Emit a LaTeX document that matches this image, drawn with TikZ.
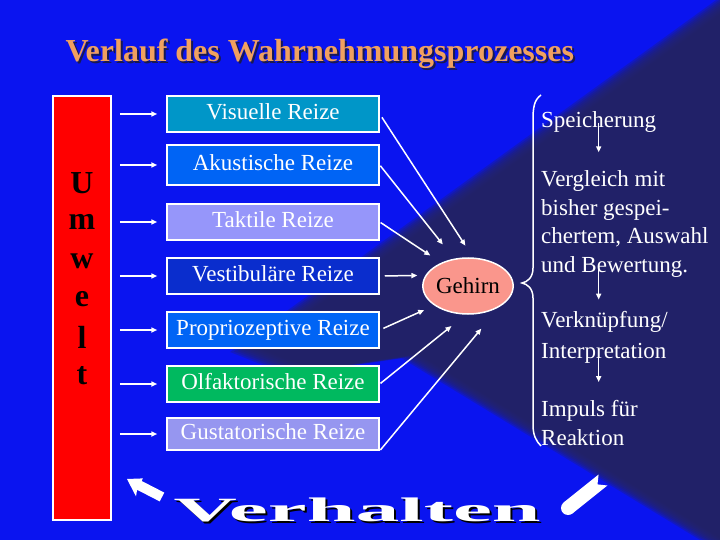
\documentclass[tikz,border=0pt]{standalone}
\usepackage{fontspec}
\setmainfont{Liberation Serif}
\usetikzlibrary{arrows.meta}
\usetikzlibrary{shapes.geometric}

\definecolor{bgblue}{RGB}{10,20,240}
\definecolor{bgdark}{RGB}{36,36,100}
\definecolor{titel}{RGB}{240,160,96}
\definecolor{schatten}{RGB}{25,25,80}
\definecolor{cvis}{RGB}{0,150,200}
\definecolor{caku}{RGB}{0,100,245}
\definecolor{ctak}{RGB}{150,150,250}
\definecolor{cvest}{RGB}{10,45,205}
\definecolor{colf}{RGB}{0,185,95}
\definecolor{cgus}{RGB}{150,150,240}
\definecolor{cgehirn}{RGB}{250,150,140}

\begin{document}
\begin{tikzpicture}[x=1pt, y=-1pt,
  reiz/.style={draw=white, line width=1.5pt, minimum width=212pt, minimum height=36pt,
    inner sep=0pt, text=white, text height=16pt, text depth=5pt,
    font=\fontsize{23}{27}\selectfont},
  pfeil/.style={white, line width=1.5pt, -{Triangle[length=6pt,width=5pt]}},
  rechts/.style={text=white, anchor=base west, align=left, inner sep=0pt,
    font=\fontsize{23}{28.5}\selectfont}]
\useasboundingbox (0,0) rectangle (720,540);
\fill[bgblue] (0,0) rectangle (720,540);
\foreach \s in {1.04,1.03,...,0.955}
  \fill[bgdark, opacity=.3, scale around={\s:(620,300)}]
    (745,-12) -- (245,350) -- (300,372) -- (410,356) -- (745,560) -- cycle;

% Titel
\node (T0) at (64,64) [anchor=base west, text=schatten, font=\fontsize{32}{32}\selectfont\bfseries]
  {Verlauf des Wahrnehmungsprozesses};
\node (T) at (62,62) [anchor=base west, text=titel, font=\fontsize{32}{32}\selectfont\bfseries]
  {Verlauf des Wahrnehmungsprozesses};

% Umwelt
\node (U) at (82,308) [draw=white, line width=1.5pt, fill=red, minimum width=58pt, minimum height=424pt] {};
\foreach \b/\y [count=\i] in {U/183, m/222, w/261, e/299, l/337, t/376}
  \node (L\i) at (82,\y) [font=\fontsize{32}{32}\selectfont\bfseries] {\b};

% Reize
\node (R1) at (273,114) [reiz, fill=cvis] {Visuelle Reize};
\node (R2) at (273,165) [reiz, fill=caku, minimum height=40pt] {Akustische Reize};
\node (R3) at (273,222) [reiz, fill=ctak] {Taktile Reize};
\node (R4) at (273,276) [reiz, fill=cvest] {Vestibuläre Reize};
\node (R5) at (273,330) [reiz, fill=caku] {Propriozeptive Reize};
\node (R6) at (273,384) [reiz, fill=colf] {Olfaktorische Reize};
\node (R7) at (273,434) [reiz, fill=cgus, minimum height=32pt] {Gustatorische Reize};
\foreach \i in {1,...,7}
  \draw[pfeil, shorten <=8pt, shorten >=9pt] (U.east |- R\i.west) -- (R\i.west);

% Gehirn
\node (G) at (468,286) [ellipse, draw=white, line width=1.5pt, fill=cgehirn, minimum width=86pt,
  minimum height=56pt, inner sep=0pt, font=\fontsize{23}{23}\selectfont] {Gehirn};
\draw[pfeil, shorten <=4pt, shorten >=14pt] (R1.east) -- (G.80);
\draw[pfeil, shorten <=1pt, shorten >=18pt] (R2.east) -- (G.117);
\draw[pfeil, shorten <=1pt, shorten >=13pt] (R3.east) -- (G.139);
\draw[pfeil, shorten <=5pt, shorten >=8pt] (R4.east) -- (G.166);
\draw[pfeil, shorten <=4pt, shorten >=11pt] (R5.east) -- (G.210);
\draw[pfeil, shorten <=1pt, shorten >=18pt] (R6.east) -- (G.265);
\draw[pfeil, shorten <=1pt, shorten >=28pt] (R7.south east) -- (G.326);

% Klammer
\draw[white, line width=1.5pt] (541,95) .. controls (534,100) and (533,108) .. (533,120)
  -- (533,268) .. controls (533,278) and (527,282) .. (522,283)
  .. controls (527,284) and (533,288) .. (533,298)
  -- (533,425) .. controls (533,435) and (536,441) .. (541,446);

% Verarbeitung
\node (S1) at (541,128) [rechts] {Speicherung};
\node (S2) at (541,272) [rechts] {Vergleich mit\\bisher gespei-\\chertem, Auswahl\\und Bewertung.};
\node (S3) at (541,358) [rechts, font=\fontsize{23}{31}\selectfont] {Verknüpfung/\\Interpretation};
\node (S4) at (541,445) [rechts] {Impuls für\\Reaktion};
\draw[pfeil, shorten >=18pt] (S1.center) -- (S1.center |- S2.north);
\draw[pfeil, shorten <=-10pt, shorten >=11pt] (S2.south -| S1.center) -- (S3.north -| S1.center);
\draw[pfeil, shorten <=-10pt, shorten >=18pt] (S3.south -| S1.center) -- (S4.north -| S1.center);

% Verhalten
\node (V0) at (172,523) [anchor=base west, text=black, font=\fontsize{34}{34}\selectfont\bfseries]
  {\scalebox{2.58}[1]{Verhalten}};
\node (V) at (170,521) [anchor=base west, text=white, font=\fontsize{34}{34}\selectfont\bfseries]
  {\scalebox{2.58}[1]{Verhalten}};
\fill[white] (164.3,492.6) -- (141.7,481) -- (142.8,478.4) -- (127,479) -- (136,496.4) -- (137.1,489.8)
  -- (159.7,501.4) -- cycle;
\fill[white] (568,508) circle (7);
\fill[white] (572.4,513.5) -- (607.4,485.5) -- (597.5,484.4) -- (598.6,474.5) -- (563.6,502.5) -- cycle;
\end{tikzpicture}
\end{document}
